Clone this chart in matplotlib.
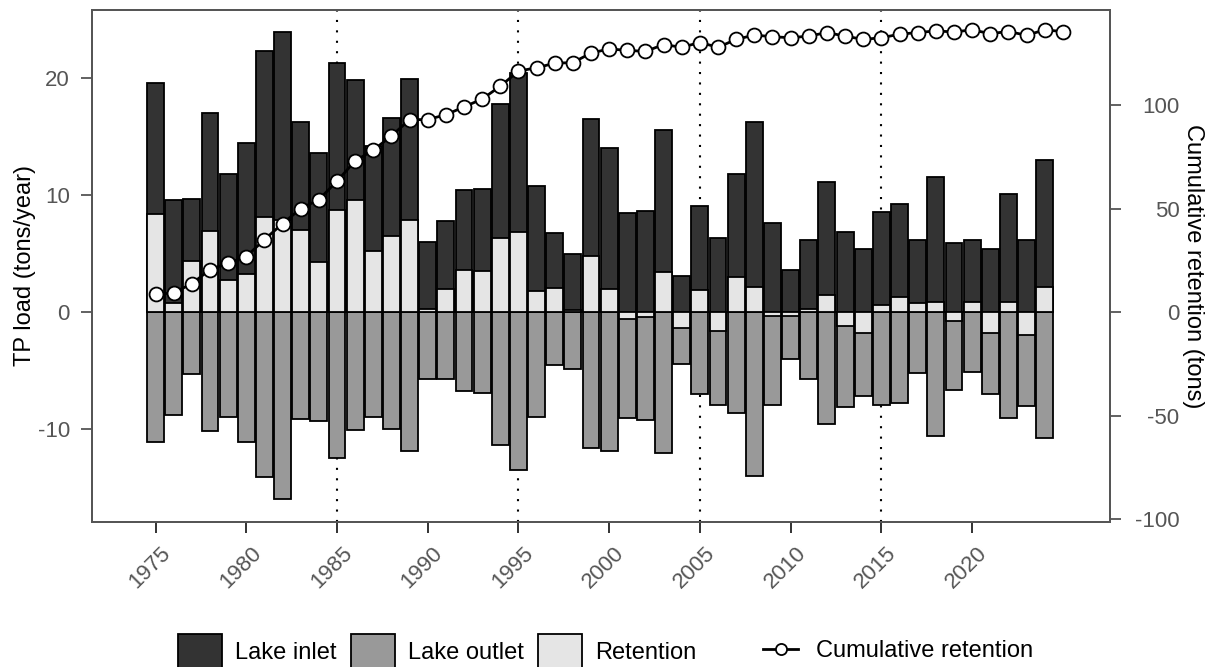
import matplotlib
matplotlib.use("Agg")
import matplotlib.pyplot as plt
import matplotlib.transforms as mtransforms
from matplotlib.patches import Patch
from matplotlib.lines import Line2D

plt.rcParams['font.family'] = ['Liberation Sans', 'DejaVu Sans']
plt.rcParams['axes.unicode_minus'] = False

years = list(range(1975, 2025))
inlet = [19.6, 9.6, 9.7, 17.05, 11.8, 14.45, 22.3, 23.9, 16.2, 13.6,
         21.3, 19.8, 14.2, 16.56, 19.9, 6.0, 7.8, 10.4, 10.5, 17.8,
         20.4, 10.8, 6.8, 5.0, 16.5, 14.0, 8.44, 8.67, 15.6, 3.1,
         9.05, 6.36, 11.76, 16.24, 7.66, 3.6, 6.16, 11.13, 6.88, 5.4,
         8.6, 9.25, 6.13, 11.56, 5.92, 6.16, 5.4, 10.1, 6.13, 13.0]
outlet = [-11.1, -8.76, -5.3, -10.1, -8.96, -11.1, -14.1, -15.95, -9.1, -9.25,
          -12.4, -10.06, -8.9, -9.97, -11.85, -5.72, -5.7, -6.73, -6.9, -11.3,
          -13.5, -8.96, -4.54, -4.83, -11.56, -11.85, -9.05, -9.2, -12.05, -4.42,
          -7.0, -7.95, -8.6, -13.96, -7.95, -3.96, -5.7, -9.54, -8.1, -7.14,
          -7.9, -7.75, -5.2, -10.55, -6.65, -5.06, -7.0, -9.0, -8.03, -10.7]
retention = [8.4, 0.8, 4.4, 6.9, 2.75, 3.3, 8.15, 7.9, 7.0, 4.25,
             8.75, 9.6, 5.2, 6.5, 7.9, 0.26, 1.97, 3.6, 3.5, 6.36,
             6.85, 1.8, 2.1, 0.17, 4.83, 1.97, -0.58, -0.43, 3.4, -1.3,
             1.94, -1.6, 3.03, 2.17, -0.3, -0.3, 0.3, 1.45, -1.16, -1.73,
             0.58, 1.3, 0.78, 0.92, -0.72, 0.92, -1.73, 0.92, -1.97, 2.2]
cum_years = list(range(1975, 2026))
cum_retention = [8.6, 9.4, 13.8, 20.6, 23.7, 26.9, 35.1, 42.8, 50.1, 54.4,
                 63.3, 73.1, 78.3, 85.2, 93.0, 93.1, 95.4, 99.2, 103.0, 109.2,
                 116.5, 118.1, 120.3, 120.6, 125.2, 127.2, 126.5, 126.0, 129.3, 128.0,
                 130.3, 128.0, 131.8, 133.9, 133.1, 132.6, 133.4, 135.1, 133.4, 131.8,
                 132.6, 134.3, 135.1, 135.9, 135.4, 136.4, 134.6, 135.6, 133.8, 136.4,
                 135.6]
vlines = [1985, 1995, 2005, 2015]
xticks = list(range(1975, 2021, 5))

C_IN, C_OUT, C_RET = '#333333', '#999999', '#e5e5e5'
TICKC = '#555555'

fig = plt.figure(figsize=(12.14, 6.67), dpi=100)
ax = fig.add_axes([92/1214, 1-522/667, (1110-92)/1214, (522-10)/667])

w = 0.93
lw = 1.3
for v in vlines:
    ax.axvline(v, color='black', ls=(0, (1, 4)), lw=1.5, zorder=0.5)
ax.bar(years, inlet, width=w, color=C_IN, edgecolor='black', lw=lw, zorder=2)
ax.bar(years, outlet, width=w, color=C_OUT, edgecolor='black', lw=lw, zorder=2)
ax.bar(years, retention, width=w, color=C_RET, edgecolor='black', lw=lw, zorder=3)

ax.set_xlim(1971.5, 2027.6)
ax.set_ylim(-17.9, 25.8)
ax.set_yticks([-10, 0, 10, 20])
ax.set_xticks(xticks)
ax.set_xticklabels([str(x) for x in xticks], rotation=45, ha='right',
                   rotation_mode='anchor', va='center')
ax.tick_params(axis='x', length=8, width=1.3, color='#222222', labelsize=16,
               labelcolor=TICKC, pad=12)
ax.tick_params(axis='y', length=8, width=1.3, color='#555555', labelsize=16,
               labelcolor=TICKC, pad=8)
for lab in ax.get_xticklabels():
    lab.set_transform(lab.get_transform() + mtransforms.ScaledTranslation(12/100, 0, fig.dpi_scale_trans))
for s in ax.spines.values():
    s.set_color('#555555')
    s.set_linewidth(1.3)
ax.set_ylabel('TP load (tons/year)', fontsize=17, labelpad=1)

ax2 = ax.twinx()
ax2.plot(cum_years, cum_retention, color='black', lw=2, marker='o', ms=10,
         mfc='white', mec='black', mew=1.3, zorder=5)
ax2.set_ylim(-101.3, 146)
ax2.set_yticks([-100, -50, 0, 50, 100])
ax2.tick_params(axis='y', length=8, width=1.3, color='#555555', labelsize=16,
                labelcolor=TICKC, pad=42)
for lab in ax2.get_yticklabels():
    lab.set_ha('right')
for s in ax2.spines.values():
    s.set_color('#555555')
    s.set_linewidth(1.3)
ax2.set_ylabel('Cumulative retention (tons)', fontsize=17, rotation=270,
               labelpad=18)

h1 = [Patch(facecolor=C_IN, edgecolor='black', lw=1.3, label='Lake inlet'),
      Patch(facecolor=C_OUT, edgecolor='black', lw=1.3, label='Lake outlet'),
      Patch(facecolor=C_RET, edgecolor='black', lw=1.3, label='Retention')]
leg1 = fig.legend(handles=h1, loc='center left', bbox_to_anchor=(178/1214, 1-651/667),
                  ncol=3, frameon=False, fontsize=17, handlelength=1.87,
                  handleheight=1.85, handletextpad=0.55, columnspacing=0.6,
                  borderpad=0, borderaxespad=0)
h2 = [Line2D([0], [0], color='black', lw=2, marker='o', ms=8, mfc='white',
             mec='black', mew=1.3, label='Cumulative retention')]
leg2 = fig.legend(handles=h2, loc='center left', bbox_to_anchor=(763/1214, 1-651/667),
                  frameon=False, fontsize=17, handlelength=1.5,
                  handletextpad=0.75, borderpad=0, borderaxespad=0)

fig.savefig('out.png', dpi=100)
